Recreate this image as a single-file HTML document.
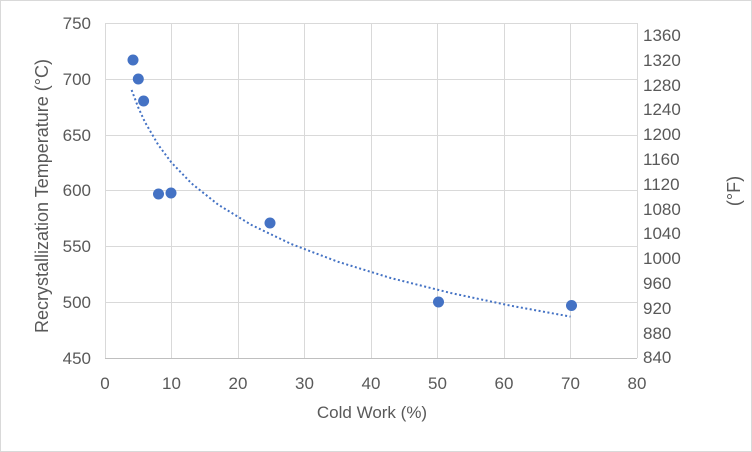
<!DOCTYPE html>
<html><head><meta charset="utf-8"><style>
html,body{margin:0;padding:0;background:#fff;}
svg{display:block;font-family:"Liberation Sans",sans-serif;}
</style></head><body>
<svg width="752" height="452" viewBox="0 0 752 452" xmlns="http://www.w3.org/2000/svg">
<rect x="0.5" y="0.5" width="751" height="451" fill="#fff" stroke="#d9d9d9"/>
<g stroke="#d9d9d9" stroke-width="1">
<line x1="105" y1="23.5" x2="637" y2="23.5"/>
<line x1="105" y1="79.5" x2="637" y2="79.5"/>
<line x1="105" y1="135.5" x2="637" y2="135.5"/>
<line x1="105" y1="190.5" x2="637" y2="190.5"/>
<line x1="105" y1="246.5" x2="637" y2="246.5"/>
<line x1="105" y1="302.5" x2="637" y2="302.5"/>
<line x1="171.5" y1="23" x2="171.5" y2="358"/>
<line x1="238.5" y1="23" x2="238.5" y2="358"/>
<line x1="304.5" y1="23" x2="304.5" y2="358"/>
<line x1="371.5" y1="23" x2="371.5" y2="358"/>
<line x1="437.5" y1="23" x2="437.5" y2="358"/>
<line x1="504.5" y1="23" x2="504.5" y2="358"/>
<line x1="570.5" y1="23" x2="570.5" y2="358"/>
<line x1="637.5" y1="23" x2="637.5" y2="358"/>
</g>
<line x1="105" y1="358.5" x2="637" y2="358.5" stroke="#bfbfbf"/>
<line x1="105.5" y1="23" x2="105.5" y2="358" stroke="#d9d9d9"/>
<g font-size="17" fill="#595959" text-anchor="end">
<text x="91" y="29">750</text><text x="91" y="85">700</text><text x="91" y="141">650</text>
<text x="91" y="196">600</text><text x="91" y="252">550</text><text x="91" y="308">500</text>
<text x="91" y="364">450</text>
</g>
<g font-size="17" fill="#595959" text-anchor="middle">
<text x="105" y="389">0</text><text x="171.5" y="389">10</text><text x="238" y="389">20</text>
<text x="304.5" y="389">30</text><text x="371" y="389">40</text><text x="437.5" y="389">50</text>
<text x="504" y="389">60</text><text x="570.5" y="389">70</text><text x="637" y="389">80</text>
<text x="372" y="418">Cold Work (%)</text>
</g>
<g font-size="17" fill="#595959" text-anchor="start">
<text x="643" y="41">1360</text><text x="643" y="66">1320</text><text x="643" y="91">1280</text>
<text x="643" y="115">1240</text><text x="643" y="140">1200</text><text x="643" y="165">1160</text>
<text x="643" y="190">1120</text><text x="643" y="215">1080</text><text x="643" y="239">1040</text>
<text x="643" y="264">1000</text><text x="643" y="289">960</text><text x="643" y="314">920</text>
<text x="643" y="339">880</text><text x="643" y="363">840</text>
</g>
<text transform="translate(48,196) rotate(-90)" font-size="18" fill="#595959" text-anchor="middle">Recrystallization Temperature (°C)</text>
<text transform="translate(740,191) rotate(-90)" font-size="18" fill="#595959" text-anchor="middle">(°F)</text>
<polyline fill="none" stroke="#4472c4" stroke-width="2" stroke-dasharray="2,2.5"
points="131.6,90 138.3,107.6 144.9,122 158.2,144.8 171.5,162.6 191.5,183.4 218.1,204.6 251.3,224.9 291.2,244 337.8,261.7 391,278.1 450.8,293 510.7,305.7 570.5,316.6"/>
<g fill="#4472c4">
<circle cx="133" cy="60" r="5.5"/><circle cx="138.3" cy="79" r="5.5"/><circle cx="143.6" cy="101" r="5.5"/>
<circle cx="158.5" cy="194" r="5.5"/><circle cx="171" cy="193" r="5.5"/><circle cx="270" cy="223" r="5.5"/>
<circle cx="438.5" cy="302" r="5.5"/><circle cx="571.5" cy="305.5" r="5.5"/>
</g>
</svg>
</body></html>
